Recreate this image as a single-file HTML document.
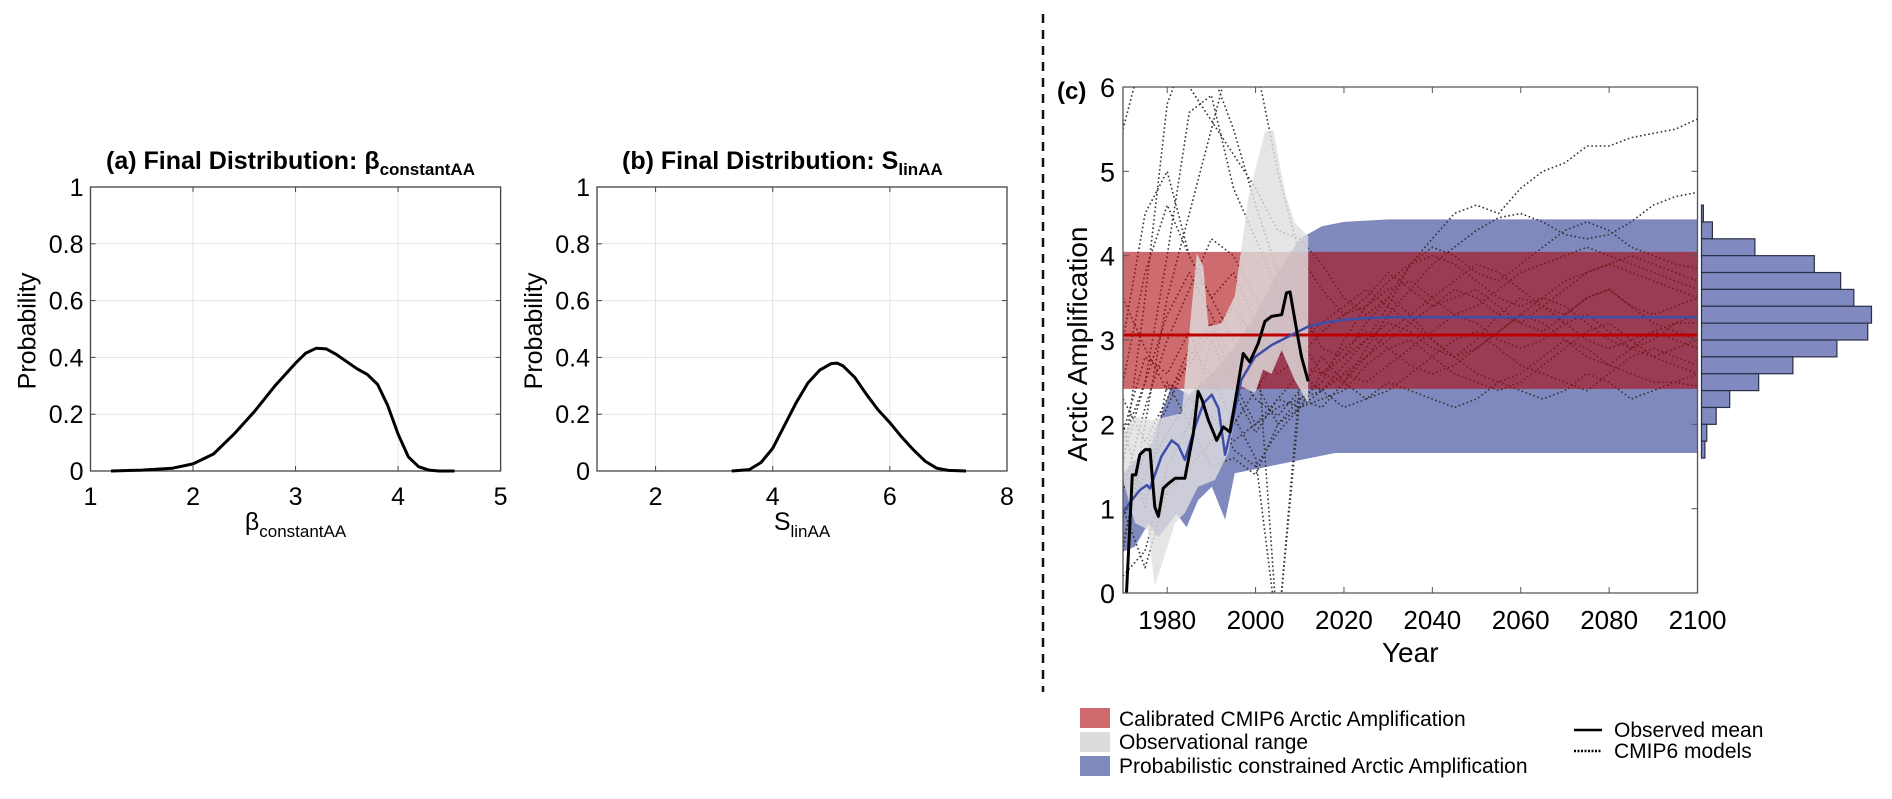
<!DOCTYPE html>
<html><head><meta charset="utf-8">
<style>
html,body{margin:0;padding:0;background:#fff;}
svg{display:block;font-family:"Liberation Sans",Arial,sans-serif;}
</style></head>
<body>
<svg id="fig" width="1892" height="799" viewBox="0 0 1892 799" xmlns="http://www.w3.org/2000/svg">
<defs>
<clipPath id="clipC"><rect x="1123" y="87" width="575" height="506"/></clipPath>
</defs>
<g id="panelA"></g>
<g id="panelB"></g>
<line x1="1043" y1="14" x2="1043" y2="692" stroke="#111" stroke-width="2.5" stroke-dasharray="9,7"/>
<g id="panelC"></g>
<g id="legend">
 <rect x="1080" y="708" width="30" height="20" fill="rgb(207,106,110)"/>
 <text x="1119" y="726" font-size="21">Calibrated CMIP6 Arctic Amplification</text>
 <rect x="1080" y="732" width="30" height="20" fill="#dcdcdc"/>
 <text x="1119" y="749" font-size="21">Observational range</text>
 <rect x="1080" y="756" width="30" height="20" fill="rgb(128,137,190)"/>
 <text x="1119" y="773" font-size="21">Probabilistic constrained Arctic Amplification</text>
 <line x1="1574" y1="730" x2="1602" y2="730" stroke="#000" stroke-width="2.5"/>
 <text x="1614" y="737" font-size="21">Observed mean</text>
 <line x1="1574" y1="751" x2="1602" y2="751" stroke="#000" stroke-width="2.5" stroke-dasharray="2,1.5"/>
 <text x="1614" y="758" font-size="21">CMIP6 models</text>
</g>
</svg>
<script>
// ---------- Panel (a) data ----------
const aX = [1.2,1.5,1.8,2.0,2.2,2.4,2.6,2.8,3.0,3.1,3.2,3.3,3.4,3.5,3.6,3.7,3.8,3.9,4.0,4.1,4.2,4.3,4.4,4.55];
const aY = [0,0.003,0.01,0.025,0.06,0.13,0.21,0.3,0.38,0.415,0.432,0.43,0.41,0.385,0.36,0.34,0.305,0.23,0.13,0.05,0.015,0.003,0,0];
const aXTicks = [1,2,3,4,5];
// ---------- Panel (b) data ----------
const bX = [3.3,3.6,3.8,4.0,4.2,4.4,4.6,4.8,5.0,5.1,5.2,5.4,5.6,5.8,6.0,6.2,6.4,6.6,6.8,7.0,7.3];
const bY = [0,0.005,0.03,0.08,0.16,0.24,0.31,0.355,0.378,0.38,0.37,0.33,0.27,0.215,0.17,0.12,0.075,0.035,0.01,0.002,0];
const bXTicks = [2,4,6,8];
const probTicks = [0,0.2,0.4,0.6,0.8,1];
const probTickLabels = ["0","0.2","0.4","0.6","0.8","1"];
// ---------- Panel (c) data ----------
const cYTicks = [0,1,2,3,4,5,6];
const cXTicks = [1980,2000,2020,2040,2060,2080,2100];
const calibLow = 2.42, calibHigh = 4.045, calibMean = 3.06;
const obsYears = [1970.8,1972.1,1972.9,1973.8,1975.0,1976.1,1977.2,1978.0,1979.1,1980.3,1981.8,1984.0,1985.9,1987.0,1987.9,1989.3,1991.2,1992.7,1994.2,1995.7,1997.2,1998.7,2000.6,2002.1,2003.6,2005.9,2007.0,2007.8,2009.7,2010.4,2011.9];
const obsMean = [0.0,1.40,1.40,1.64,1.70,1.70,1.02,0.91,1.24,1.30,1.36,1.36,1.89,2.39,2.29,2.05,1.81,1.97,1.91,2.37,2.84,2.74,2.96,3.22,3.28,3.30,3.56,3.57,3.00,2.80,2.51];
const grayUpYears = [1970,1972.7,1976.5,1983.3,1986.7,1988.2,1989.3,1992.3,1995.3,1998.4,2002.1,2004,2006.7,2008.9,2011.9];
const grayUp = [1.89,2.09,2.05,2.13,4.03,3.87,3.16,3.20,3.52,4.70,5.47,5.49,4.74,4.39,4.23];
const grayLoYears = [1970,1972.7,1975.7,1977.2,1981.8,1984,1987,1990.8,1993.8,1996.8,1999.9,2001.7,2003.6,2005.9,2008.9,2011.9];
const grayLo = [1.34,0.83,0.75,0.08,0.83,0.95,1.26,1.34,1.66,2.45,2.37,2.65,2.60,2.88,2.52,2.25];
const projMeanYears = [1970,1972,1973.8,1975.4,1976.1,1978.7,1981,1982.5,1984,1986.3,1988.2,1990.1,1991.6,1993.1,1994.6,1996.8,1999.9,2003.6,2007.4,2011.9,2015,2020,2025,2030,2100];
const projMean = [0.96,1.10,1.22,1.28,1.24,1.62,1.81,1.75,1.58,1.97,2.25,2.35,2.19,1.64,1.97,2.53,2.80,2.94,3.04,3.16,3.20,3.24,3.26,3.27,3.27];
const projUpYears = [1970,1976.5,1981,1985,1990,1995,2000,2005,2010,2015,2020,2030,2100];
const projUp = [1.42,1.78,2.47,2.35,2.6,2.9,3.3,3.8,4.2,4.35,4.40,4.43,4.43];
const projLoYears = [1970,1972.7,1975.7,1978,1982.1,1984.4,1987,1990.1,1993.1,1995.3,2002.9,2010.4,2018,2030,2100];
const projLo = [0.49,0.55,0.82,0.66,0.94,0.78,1.10,1.26,0.87,1.42,1.50,1.58,1.66,1.66,1.66];
const modelYears = [1970,1975,1980,1985,1990,1995,2000,2005,2010,2015,2020,2025,2030,2035,2040,2045,2050,2055,2060,2065,2070,2075,2080,2085,2090,2095,2100];
const model01 = [1.5,3.5,5.8,6.5,6.2,5.5,4.6,3.8,3.4,2.9,2.8,3.0,3.4,3.9,4.2,4.5,4.6,4.5,4.8,5.0,5.1,5.3,5.3,5.4,5.45,5.5,5.62];
const model02 = [1.8,2.5,4.0,5.7,5.9,4.8,4.2,3.6,3.0,2.6,2.5,2.9,3.3,3.6,3.9,4.1,4.3,4.45,4.5,4.4,4.25,4.2,4.25,4.4,4.6,4.7,4.75];
const model03 = [5.5,6.5,6.5,6.0,5.6,5.2,4.8,4.3,4.2,3.9,3.5,3.3,3.5,3.9,4.1,4.0,3.8,3.7,3.9,4.1,4.3,4.4,4.3,4.1,4.0,3.9,3.85];
const model04 = [0.5,2.0,3.5,4.5,5.5,6.5,6.3,5.0,4.0,3.6,3.3,3.4,3.6,3.7,3.5,3.3,3.4,3.6,3.8,3.9,4.0,4.1,4.0,3.9,3.8,3.7,3.6];
const model05 = [2.0,1.0,2.5,2.0,3.0,2.4,1.9,2.3,2.2,2.4,2.6,2.8,3.0,3.2,3.4,3.6,3.5,3.3,3.2,3.4,3.6,3.8,3.9,3.8,3.7,3.6,3.5];
const model06 = [0.2,0.5,1.5,2.0,1.5,1.6,1.4,2.0,2.2,2.3,2.4,2.7,2.9,3.0,2.8,2.6,2.5,2.4,2.5,2.7,2.9,3.1,3.2,3.0,2.8,2.7,2.6];
const model07 = [3.0,4.5,5.0,4.0,3.5,3.0,2.5,2.0,2.3,2.4,2.6,2.5,2.7,2.9,3.1,3.3,3.2,3.0,2.9,3.0,3.2,3.3,3.1,2.9,3.0,3.2,3.3];
const model08 = [1.0,0.3,1.2,1.5,1.8,2.1,1.6,-0.5,2.5,2.4,2.7,3.0,3.2,3.1,2.9,2.8,3.0,3.3,3.5,3.4,3.2,3.0,2.9,3.0,3.1,3.0,2.9];
const model09 = [2.5,3.8,4.6,4.0,3.5,3.8,3.2,-0.5,2.3,2.2,2.5,2.8,3.1,3.3,3.5,3.7,3.9,3.8,3.6,3.4,3.3,3.5,3.6,3.4,3.2,3.1,3.0];
const model10 = [1.2,2.2,3.0,3.6,4.2,4.0,3.5,3.0,2.7,2.6,2.8,3.2,3.5,3.3,3.0,2.8,2.6,2.5,2.6,2.8,3.0,2.9,2.7,2.6,2.5,2.5,2.45];
const model11 = [0.6,1.7,2.2,2.8,3.2,2.5,2.0,2.2,2.3,2.5,3.0,3.4,3.7,3.9,4.0,3.9,3.7,3.5,3.4,3.5,3.7,3.8,3.9,4.0,3.9,3.8,3.7];
const model12 = [1.9,2.8,2.6,3.1,2.4,1.7,1.5,1.9,2.2,2.6,2.9,3.1,2.9,2.7,2.6,2.7,2.9,3.1,3.3,3.2,3.0,2.8,2.7,2.9,3.1,3.2,3.2];
const model13 = [2.3,1.8,2.3,2.9,2.6,2.0,2.4,2.8,3.0,3.2,3.4,3.6,3.4,3.2,3.0,2.8,2.9,3.1,3.3,3.5,3.4,3.2,3.0,2.9,2.8,2.9,3.0];
const model14 = [1.6,2.5,3.3,3.8,3.3,2.7,2.3,2.1,2.4,2.8,2.5,2.3,2.4,2.6,2.8,3.0,3.1,2.9,2.7,2.6,2.5,2.4,2.6,2.8,2.9,2.8,2.7];
const model15 = [3.5,2.9,2.4,2.7,3.1,3.4,3.0,2.6,2.8,3.1,3.3,3.5,3.8,3.6,3.4,3.5,3.6,3.4,3.2,3.1,3.3,3.5,3.6,3.4,3.3,3.4,3.5];
const model16 = [0.9,1.4,1.9,2.3,2.1,1.8,2.0,2.3,2.6,2.4,2.2,2.3,2.5,2.4,2.3,2.2,2.3,2.5,2.4,2.3,2.4,2.6,2.5,2.3,2.4,2.5,2.6];
const models = [model01,model02,model03,model04,model05,model06,model07,model08,model09,model10,model11,model12,model13,model14,model15,model16];
const histBinTops = [4.6,4.4,4.2,4.0,3.8,3.6,3.4,3.2,3.0,2.8,2.6,2.4,2.2,2.0,1.8];
const histCounts = [5,29,142,300,370,405,452,442,360,243,152,75,39,14,9];

const NS = "http://www.w3.org/2000/svg";
function mk(tag, parent, attrs){
  const e = document.createElementNS(NS, tag);
  for (const k in attrs) e.setAttribute(k, attrs[k]);
  parent.appendChild(e);
  return e;
}
function txt(parent, x, y, s, size, anchor){
  const t = mk('text', parent, {x:x, y:y, 'font-size':size, 'text-anchor':anchor||'start'});
  t.textContent = s;
  return t;
}

function distPanel(g, x0, x1, xmin, xmax, xticks, xs, ys, titleMain, titleSub, xlabMain, xlabSub, titleX){
  const top = 187, bot = 471;
  const sx = v => x0 + (v - xmin) / (xmax - xmin) * (x1 - x0);
  const sy = v => bot - v * (bot - top);
  xticks.forEach(v => {
    if (v === xmin || v === xmax) return;
    const l = mk('line', g, {x1:sx(v), x2:sx(v), y1:top, y2:bot, stroke:'#e3e3e3', 'stroke-width':1});
    
    
  });
  probTicks.forEach(v => {
    if (v === 0 || v === 1) return;
    const l = mk('line', g, {x1:x0, x2:x1, y1:sy(v), y2:sy(v), stroke:'#e3e3e3', 'stroke-width':1});
    
    
  });
  const box = mk('rect', g, {x:x0, y:top, width:x1-x0, height:bot-top, fill:'none', stroke:'#444', 'stroke-width':1.3});
  
  
  probTicks.forEach((v, i) => {
    mk('line', g, {x1:x0, x2:x0+5, y1:sy(v), y2:sy(v), stroke:'#444'});
    mk('line', g, {x1:x1, x2:x1-5, y1:sy(v), y2:sy(v), stroke:'#444'});
    const t = txt(g, x0-7, sy(v)+9, probTickLabels[i], 25, 'end');
    
    
  });
  xticks.forEach(v => {
    mk('line', g, {x1:sx(v), x2:sx(v), y1:bot, y2:bot-5, stroke:'#444'});
    mk('line', g, {x1:sx(v), x2:sx(v), y1:top, y2:top+5, stroke:'#444'});
    const t = txt(g, sx(v), 505, String(v), 25, 'middle');
    
    
  });
  const pts = xs.map((v, i) => sx(v).toFixed(1) + ',' + sy(ys[i]).toFixed(1)).join(' ');
  const curve = mk('polyline', g, {points:pts, fill:'none', stroke:'#000', 'stroke-width':3, 'stroke-linejoin':'round'});
  
  
  const yl = mk('text', g, {x:0, y:0, 'font-size':25, 'text-anchor':'middle', transform:'translate(' + (x0-55) + ',331) rotate(-90)'});
  yl.textContent = 'Probability';
  
  
  const tt = mk('text', g, {x:titleX, y:169, 'font-size':25, 'font-weight':'bold'});
  
  
  tt.textContent = titleMain;
  const ts = mk('tspan', tt, {'font-size':17, dy:6});
  ts.textContent = titleSub;
  const xl = mk('text', g, {x:(x0+x1)/2, y:530, 'font-size':25, 'text-anchor':'middle'});
  
  
  xl.textContent = xlabMain;
  const xsub = mk('tspan', xl, {'font-size':17, dy:7});
  xsub.textContent = xlabSub;
}
distPanel(document.getElementById('panelA'), 90.5, 500.6, 1, 5, aXTicks, aX, aY, '(a) Final Distribution: β', 'constantAA', 'β', 'constantAA', 106);
distPanel(document.getElementById('panelB'), 597, 1007, 1, 8, bXTicks, bX, bY, '(b) Final Distribution: S', 'linAA', 'S', 'linAA', 622);

(function(){
  const g = document.getElementById('panelC');
  const L = 1123, R = 1697.5, T = 87, B = 593;
  const sx = y => L + (y - 1970) / 130 * (R - L);
  const sy = v => B - v / 6 * (B - T);
  const plot = mk('g', g, {'clip-path':'url(#clipC)'});
  
  
  function band(upX, upY, loX, loY){
    const a = upX.map((x, i) => sx(x).toFixed(1) + ',' + sy(upY[i]).toFixed(1));
    const b = loX.map((x, i) => sx(x).toFixed(1) + ',' + sy(loY[i]).toFixed(1)).reverse();
    return a.concat(b).join(' ');
  }
  function line(xs, ys){ return xs.map((x, i) => sx(x).toFixed(1) + ',' + sy(ys[i]).toFixed(1)).join(' '); }
  const pb = mk('polygon', plot, {points:band(projUpYears, projUp, projLoYears, projLo), fill:'rgb(128,137,190)'});
  
  
  models.forEach(m => {
    const p = mk('polyline', plot, {points:line(modelYears, m), fill:'none', stroke:'#333', 'stroke-width':1.6, 'stroke-dasharray':'1.6,2.6', 'stroke-linejoin':'round'});
    
    
  });
  const rb = mk('rect', plot, {x:L, y:sy(calibHigh), width:R-L, height:sy(calibLow)-sy(calibHigh), fill:'rgba(174,8,15,0.6)'});
  
  
  const gb = mk('polygon', plot, {points:band(grayUpYears, grayUp, grayLoYears, grayLo), fill:'rgba(222,222,222,0.8)'});
  
  
  const rl = mk('line', plot, {x1:L, x2:R, y1:sy(calibMean), y2:sy(calibMean), stroke:'#c00000', 'stroke-width':3});
  
  
  const bl = mk('polyline', plot, {points:line(projMeanYears, projMean), fill:'none', stroke:'#3d4fa8', 'stroke-width':2.5, 'stroke-linejoin':'round'});
  
  
  const ol = mk('polyline', plot, {points:line(obsYears, obsMean), fill:'none', stroke:'#000', 'stroke-width':3, 'stroke-linejoin':'round'});
  
  
  const fr = mk('path', g, {d:'M'+L+','+T+' H'+R+' V'+B+' H'+L+' Z', fill:'none', stroke:'#555', 'stroke-width':1.3});
  
  
  cYTicks.forEach(v => {
    mk('line', g, {x1:L, x2:L+6, y1:sy(v), y2:sy(v), stroke:'#555'});
    mk('line', g, {x1:R, x2:R-6, y1:sy(v), y2:sy(v), stroke:'#555'});
    const t = txt(g, L-8, sy(v)+10, String(v), 27, 'end');
    
    
  });
  cXTicks.forEach(v => {
    mk('line', g, {x1:sx(v), x2:sx(v), y1:B, y2:B-6, stroke:'#555'});
    mk('line', g, {x1:sx(v), x2:sx(v), y1:T, y2:T+6, stroke:'#555'});
    const t = txt(g, sx(v), 629, String(v), 26, 'middle');
    
    
  });
  const xt = txt(g, (L+R)/2, 662, 'Year', 28, 'middle');
  
  
  const yt = mk('text', g, {x:0, y:0, 'font-size':28, 'text-anchor':'middle', transform:'translate(1087,344) rotate(-90)'});
  yt.textContent = 'Arctic Amplification';
  
  
  const pl = txt(g, 1057, 99, '(c)', 24, 'start');
  pl.setAttribute('font-weight', 'bold');
  
  
  const hx0 = 1701.5, maxW = 170, maxC = Math.max.apply(null, histCounts);
  const binH = sy(0) - sy(0.2);
  histBinTops.forEach((v, i) => {
    const r = mk('rect', g, {x:hx0, y:sy(v), width:histCounts[i]/maxC*maxW, height:binH, fill:'rgb(128,137,192)', stroke:'#2b2f45', 'stroke-width':1.2});
    
    
  });
})();
</script>
</body></html>
